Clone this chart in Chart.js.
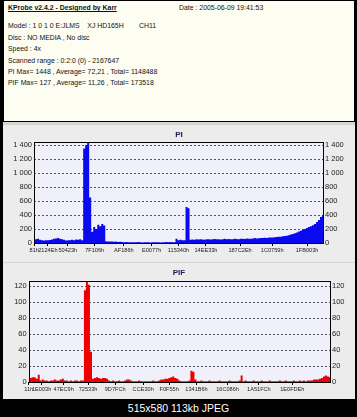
<!DOCTYPE html>
<html><head><meta charset="utf-8">
<script src="https://cdn.jsdelivr.net/npm/chart.js@4.4.1/dist/chart.umd.min.js"></script>
<style>
html,body{margin:0;padding:0;background:#000;width:357px;height:417px;overflow:hidden;}
#top{position:absolute;left:3px;top:0;width:352px;height:122px;box-sizing:border-box;border:1px solid #000;background:#fdfdf1;}
.t{position:absolute;left:4px;font:6.9px "Liberation Sans",Arial,sans-serif;color:#111;white-space:pre;line-height:8px;}
#title{font-weight:bold;text-decoration:underline;}
#gray{position:absolute;left:3px;top:122px;width:352px;height:277px;background:#d6d6d6;}
.panel{position:absolute;left:3px;width:352px;background:#ececec;}
#p1{top:125px;height:137px;}
#p2{top:263px;height:136px;}
canvas{position:absolute;left:0;top:0;}
#foot{position:absolute;left:0;top:402px;width:357px;text-align:center;font:10.5px "Liberation Sans",Arial,sans-serif;color:#fff;}
</style></head><body>
<div id="top">
<div class="t" id="title" style="top:3px">KProbe v2.4.2 - Designed by Karr</div>
<div class="t" style="top:3px;left:175px">Date : 2005-06-09 19:41:53</div>
<div class="t" style="top:21px">Model : 1 0 1 0 E:JLMS    XJ HD165H        CH11</div>
<div class="t" style="top:32.5px">Disc : NO MEDIA , No disc</div>
<div class="t" style="top:44px">Speed : 4x</div>
<div class="t" style="top:55.5px">Scanned range : 0:2:0 (0) - 2167647</div>
<div class="t" style="top:67px">PI Max= 1448 , Average= 72,21 , Total= 1148488</div>
<div class="t" style="top:78px">PIF Max= 127 , Average= 11,26 , Total= 173518</div>
</div>
<div id="gray"></div>
<div class="panel" id="p1"><canvas id="c1" width="352" height="137"></canvas></div>
<div class="panel" id="p2"><canvas id="c2" width="352" height="136"></canvas></div>
<div id="foot">515x580 113kb JPEG</div>
<script>
// ---- data ----
const piXLabels = ["81h","2124Eh","50423h","7F106h","AF186h","E0077h","115340h","14EE33h","187C2Eh","1C0759h","1FB003h"];
const pifXLabels = ["11h","1E003h","47EC9h","72533h","9D7FCh","CCE30h","F0F55h","1341B6h","16C086h","1A51FCh","1E0FDEh"];
const piYTicks = [0,200,400,600,800,1000,1200,1400];
const pifYTicks = [0,20,40,60,80,100,120];
const piMax = 1448;
const pifMax = 127;
const piValues = [
 40,55,60,45,40,35,40,38,42,50,60,65,70,60,55,45,35,40,38,45,40,50,45,55,40,
 1350,1400,1448,650,160,230,200,260,240,270,250,
 25,22,20,20,18,20,15,18,15,12,15,12,10,12,10,12,15,10,8,10,12,10,8,10,10,12,10,8,12,10,15,12,15,10,12,
 60,40,45,40,40,515,495,
 45,50,48,52,50,55,50,48,52,55,50,55,58,52,55,50,55,60,55,58,52,55,60,58,55,62,60,58,65,60,62,65,70,65,68,72,70,75,72,78,80,78,82,85,88,90,95,100,105,110,120,130,140,
 150,165,175,190,200,215,230,240,255,270,300,330,370,400
];
const pifValues = [
 3,5,6,6,4,9,
 2,3,2,2,1,2,2,3,2,2,3,4,2,2,1,2,1,2,2,1,2,2,
 115,127,122,38,4,
 5,6,5,4,5,5,4,
 2,1,2,1,1,2,1,1,2,3,
 3,2,1,1,1,2,1,1,1,1,1,1,2,1,1,2,3,
 3,4,4,5,6,7,5,4,
 2,1,1,1,1,2,
 14,13,3,
 1,1,2,1,1,1,2,1,1,1,1,2,1,1,1,1,2,1,1,1,1,2,
 8,
 1,2,1,1,1,2,1,1,1,2,1,1,1,2,1,1,1,1,2,1,1,2,1,1,1,2,1,1,2,1,2,1,2,2,
 2,3,3,3,4,5,7,8,7,6
];

// ---- chart builder ----
const FONT = '"Liberation Sans",Arial,sans-serif';
const frame = {id:'frame',afterDatasetsDraw(c){const a=c.chartArea,x=c.ctx;x.save();x.strokeStyle='#000';x.lineWidth=1;
  x.strokeRect(Math.round(a.left)+0.5,Math.round(a.top)+0.5,Math.round(a.right-a.left),Math.round(a.bottom-a.top));x.restore();}};
const bg = {id:'bg',beforeDraw(c){const a=c.chartArea,x=c.ctx;x.save();x.fillStyle='#f0f0fa';x.fillRect(a.left,a.top,a.right-a.left,a.bottom-a.top);x.restore();}};
function fmt(v){return v>=1000?Math.floor(v/1000)+' '+String(v%1000).padStart(3,'0'):String(v);}
function make(id,title,values,color,yMax,yTicks,xLabels,frac,geo){
  const data=values.map((v,i)=>({x:i,y:v}));
  const yCommon=(pos,w)=>({type:'linear',position:pos,min:0,max:yMax,
    afterBuildTicks(s){s.ticks=yTicks.map(v=>({value:v}));},
    afterFit(s){s.width=w;},
    grid:{display:pos==='left',color:'#555',lineWidth:1,drawTicks:false},
    border:{display:false,dash:[2,2]},
    ticks:{padding:2,color:'#222',font:{family:FONT,size:7.5},callback:v=>fmt(v)}});
  new Chart(document.getElementById(id),{
    type:'line',
    data:{datasets:[{data,backgroundColor:color,borderColor:color,borderWidth:0,pointRadius:0,fill:'origin',stepped:'middle'}]},
    options:{responsive:false,animation:false,devicePixelRatio:1,
      layout:{padding:0},
      plugins:{legend:{display:false},tooltip:{enabled:false},
        title:{display:true,text:title,color:'#1a1a55',font:{family:FONT,size:8,weight:'bold',lineHeight:1},padding:{top:geo.tt,bottom:geo.tb}}},
      scales:{
        x:{type:'linear',min:0,max:values.length-1,offset:false,
          afterBuildTicks(s){s.ticks=frac.map(f=>({value:s.min+f*(s.max-s.min)}));},
          afterFit(s){s.height=geo.xh;},
          grid:{drawOnChartArea:false,drawTicks:true,tickLength:3,tickColor:'#000'},
          border:{display:false},
          ticks:{autoSkip:false,maxRotation:0,padding:1.5,color:'#222',font:{family:FONT,size:5.6},
            callback:(v,i)=>xLabels[i]}},
        y:yCommon('left',geo.lw),
        y2:yCommon('right',geo.rw)
      }},
    plugins:[bg,frame]
  });
}
make('c1','PI',piValues,'#0a0af0',piMax,piYTicks,piXLabels,
  [0.001,0.048,0.117,0.210,0.311,0.407,0.500,0.595,0.713,0.824,0.945],
  {tt:6,tb:2.7,xh:19,lw:31,rw:32});
make('c2','PIF',pifValues,'#ee0000',pifMax,pifYTicks,pifXLabels,
  [0.0,0.043,0.116,0.197,0.287,0.380,0.466,0.557,0.660,0.764,0.875],
  {tt:6,tb:3.7,xh:17,lw:25.7,rw:25});
</script>
</body></html>
